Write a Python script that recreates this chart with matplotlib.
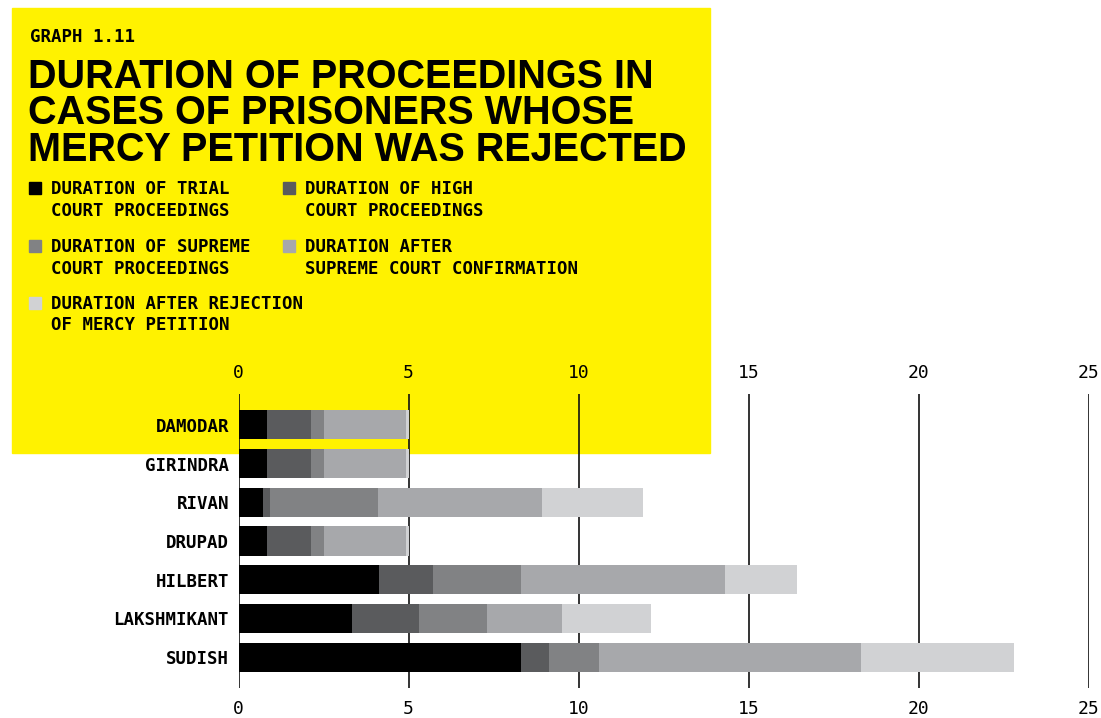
import matplotlib.pyplot as plt
from matplotlib.patches import Rectangle
import numpy as np

# Données (années)
noms = ["DAMODAR", "GIRINDRA", "RIVAN", "DRUPAD", "HILBERT", "LAKSHMIKANT", "SUDISH"]
trial = [0.83, 0.83, 0.71, 0.83, 4.12, 3.33, 8.30]
high_court = [1.30, 1.30, 0.21, 1.30, 1.60, 1.97, 0.83]
supreme_court = [0.38, 0.38, 3.17, 0.38, 2.58, 2.01, 1.46]
after_confirmation = [2.41, 2.41, 4.82, 2.41, 6.01, 2.19, 7.71]
after_rejection = [0.08, 0.08, 2.98, 0.08, 2.12, 2.63, 4.50]

series = [trial, high_court, supreme_court, after_confirmation, after_rejection]
legende = [
    "DURATION OF TRIAL\nCOURT PROCEEDINGS",
    "DURATION OF HIGH\nCOURT PROCEEDINGS",
    "DURATION OF SUPREME\nCOURT PROCEEDINGS",
    "DURATION AFTER\nSUPREME COURT CONFIRMATION",
    "DURATION AFTER REJECTION\nOF MERCY PETITION",
]
ticks_x = [0, 5, 10, 15, 20, 25]
couleurs = ["#000000", "#5a5b5d", "#818284", "#a7a8ab", "#d1d2d4"]
jaune = "#fff200"
mono = ["DejaVu Sans Mono"]
titre_font = ["Liberation Sans", "DejaVu Sans"]

plt.rcParams["font.family"] = mono

fig = plt.figure(figsize=(11.01, 7.18), dpi=100)
W, H = 1101, 718

# Encadré jaune (derrière le graphique)
fig.patches.append(Rectangle((12 / W, 1 - 453 / H), 698 / W, 445 / H,
                             transform=fig.transFigure, color=jaune, zorder=-2))

fig.text(30 / W, 1 - 37 / H, "GRAPH 1.11", weight="bold",
         fontsize=12.5, va="center", ha="left")
titre = ["DURATION OF PROCEEDINGS IN", "CASES OF PRISONERS WHOSE",
         "MERCY PETITION WAS REJECTED"]
for i, ligne in enumerate(titre):
    fig.text(28 / W, 1 - (88 + i * 36.5) / H, ligne, family=titre_font,
             weight="bold", fontsize=28.5, va="baseline", ha="left")

# Légende
positions = [(29, 188), (283, 188), (29, 246), (283, 246), (29, 303)]
for (x, y), txt, c in zip(positions, legende, couleurs):
    fig.patches.append(Rectangle((x / W, 1 - (y + 6) / H), 12 / W, 12 / H,
                                 transform=fig.transFigure, color=c, zorder=1))
    fig.text((x + 22) / W, 1 - (y - 8) / H, txt, weight="bold",
             fontsize=12.5, va="top", ha="left", linespacing=1.25)

# Graphique
ax = fig.add_axes([238.6 / W, 30 / H, 850 / W, 294 / H], zorder=2)
ax.patch.set_alpha(0)
y = np.arange(len(noms))
gauche = np.zeros(len(noms))
for vals, c in zip(series, couleurs):
    ax.barh(y, vals, left=gauche, color=c, height=0.75, zorder=3)
    gauche += np.array(vals)

ax.set_xlim(0, 25)
ax.set_ylim(len(noms) - 0.2, -0.8)
ax.set_xticks(ticks_x)
ax.set_yticks(y)
ax.set_yticklabels(noms, weight="bold", fontsize=12.5)
ax.tick_params(axis="x", length=0, labeltop=True, labelbottom=True, pad=9,
               labelsize=13)
ax.tick_params(axis="y", length=0, pad=7)
ax.grid(axis="x", color="#111111", linewidth=1.2, zorder=1)
ax.set_axisbelow(True)
for s in ax.spines.values():
    s.set_visible(False)

fig.savefig("out.png", dpi=100)
